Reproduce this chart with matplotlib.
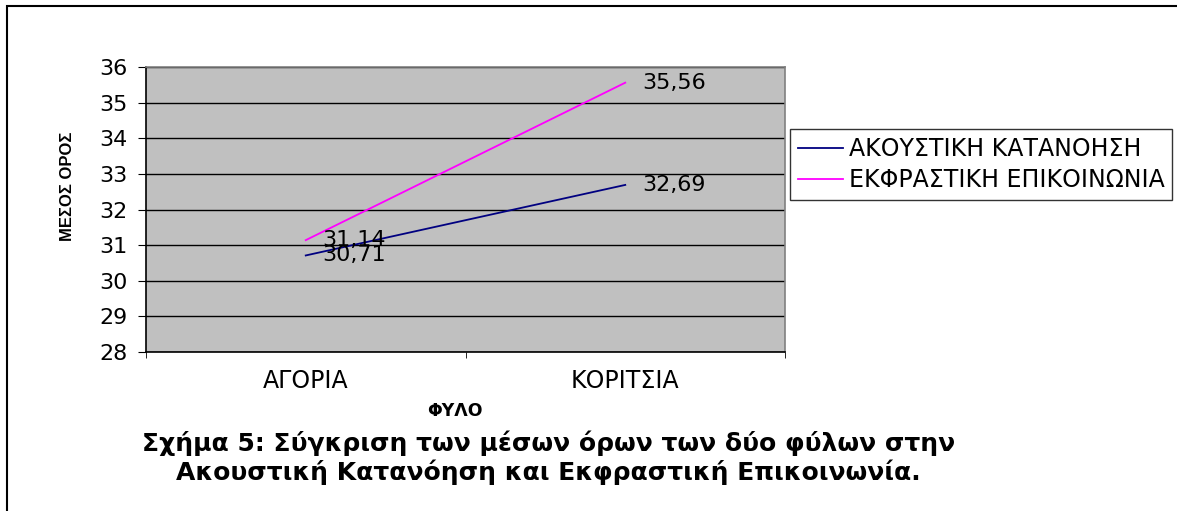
import matplotlib.pyplot as plt
import matplotlib.patches as patches

plt.rcParams['font.family'] = ['DejaVu Sans']

categories = ['ΑΓΟΡΙΑ', 'ΚΟΡΙΤΣΙΑ']
akoustiki = [30.71, 32.69]
ekfrastiki = [31.14, 35.56]
akoustiki_labels = ['30,71', '32,69']
ekfrastiki_labels = ['31,14', '35,56']
series_names = ['ΑΚΟΥΣΤΙΚΗ ΚΑΤΑΝΟΗΣΗ', 'ΕΚΦΡΑΣΤΙΚΗ ΕΠΙΚΟΙΝΩΝΙΑ']
yticks = [28, 29, 30, 31, 32, 33, 34, 35, 36]

fig = plt.figure(figsize=(11.77, 5.11), dpi=100)

# outer frame of the chart object
fig.patches.append(patches.Rectangle((7 / 1177, -0.1), 1.2, 1 - 6 / 511 + 0.1,
                                     transform=fig.transFigure, fill=False,
                                     edgecolor='black', linewidth=1.5))

ax = fig.add_axes([146 / 1177, 1 - 352 / 511, 639 / 1177, 285 / 511])
ax.set_facecolor('#c0c0c0')

x = list(range(len(categories)))
l1, = ax.plot(x, akoustiki, color='#000080', linewidth=1.3)
l2, = ax.plot(x, ekfrastiki, color='#ff00ff', linewidth=1.3)

for xi, yi, lab in zip(x, akoustiki, akoustiki_labels):
    ax.annotate(lab, (xi, yi), xytext=(12, 0), textcoords='offset points',
                va='center', ha='left', fontsize=16)
for xi, yi, lab in zip(x, ekfrastiki, ekfrastiki_labels):
    ax.annotate(lab, (xi, yi), xytext=(12, 0), textcoords='offset points',
                va='center', ha='left', fontsize=16)

ax.set_xlim(-0.5, 1.5)
ax.set_ylim(28, 36)
ax.set_yticks(yticks)
ax.set_yticklabels([str(t) for t in yticks], fontsize=16)
ax.yaxis.grid(True, color='black', linewidth=1)
ax.set_axisbelow(True)

ax.set_xticks(x)
ax.set_xticklabels(categories, fontsize=17)
ax.set_xticks([-0.5, 0.5, 1.5], minor=True)
ax.tick_params(axis='x', which='major', length=0, pad=12)
ax.tick_params(axis='x', which='minor', length=4.5, color='black', direction='out')
ax.tick_params(axis='y', length=6, direction='out', pad=7.5)

ax.spines['left'].set_color('black')
ax.spines['bottom'].set_color('black')
ax.spines['top'].set_color('#808080')
ax.spines['right'].set_color('#808080')
for s in ax.spines.values():
    s.set_linewidth(1.2)

fig.text(68 / 1177, 1 - 186 / 511, 'ΜΕΣΟΣ ΟΡΟΣ', rotation=90, ha='center', va='center',
         fontsize=12, fontweight='bold', family='Liberation Sans')
fig.text(455 / 1177, 1 - 411 / 511, 'ΦΥΛΟ', ha='center', va='center',
         fontsize=12.5, fontweight='bold')

leg = fig.legend([l1, l2], series_names, loc='upper left',
                 bbox_to_anchor=(790 / 1177, 1 - 129 / 511), fontsize=17,
                 frameon=True, fancybox=False, edgecolor='black',
                 handlelength=1.9, handletextpad=0.25, borderpad=0.33,
                 labelspacing=0.3, borderaxespad=0)
leg.get_frame().set_linewidth(1)

fig.text(0.466, 1 - 443 / 511, 'Σχήμα 5: Σύγκριση των μέσων όρων των δύο φύλων στην',
         ha='center', va='center', fontsize=18, fontweight='bold')
fig.text(0.466, 1 - 472 / 511, 'Ακουστική Κατανόηση και Εκφραστική Επικοινωνία.',
         ha='center', va='center', fontsize=18, fontweight='bold')

fig.savefig('out.png', dpi=100)
